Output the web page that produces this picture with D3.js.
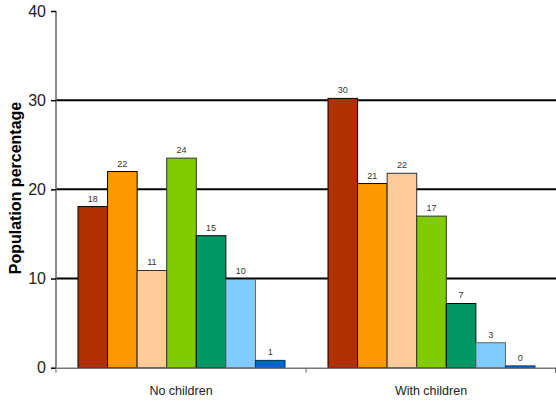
<!DOCTYPE html>
<html><head><meta charset="utf-8">
<script src="https://cdn.jsdelivr.net/npm/d3@7"></script>
<style>body{margin:0;background:#fff}svg{display:block}</style>
</head><body>
<svg id="c" width="556" height="401"></svg>
<script>
const categories = ["No children", "With children"];
const seriesNames = ["s1","s2","s3","s4","s5","s6","s7"];
const noChildren = [18.07, 22.0, 10.9, 23.5, 14.8, 9.9, 0.82];
const withChildren = [30.2, 20.65, 21.8, 17.0, 7.2, 2.8, 0.2];
const dataLabels = [["18","22","11","24","15","10","1"],["30","21","22","17","7","3","0"]];
const yTicks = [0, 10, 20, 30, 40];
const gridValues = [10, 20, 30];
const colors = ["#B03000","#FF9900","#FFCC99","#80CC00","#009966","#80CCFF","#0066CC"];
const strokes = ["#000","#000","#333","#333","#000","#666","#003366"];

const values = [noChildren, withChildren];
const svg = d3.select("#c");
const mLeft = 56, mRight = 556, mTop = 11, mBottom = 367.7;
const y = d3.scaleLinear().domain([0, 40]).range([mBottom, mTop]);
const x0 = d3.scaleBand().domain(categories).range([mLeft, mRight]);
const x1 = d3.scaleBand().domain(seriesNames).range([22, 229]);

// gridlines
svg.append("g").selectAll("line").data(gridValues).join("line")
  .attr("x1", mLeft).attr("x2", mRight)
  .attr("y1", d => y(d)).attr("y2", d => y(d))
  .attr("stroke", "#000").attr("stroke-width", 2);

// bars
categories.forEach((c, ci) => {
  const g = svg.append("g").attr("transform", `translate(${x0(c)},0)`);
  g.selectAll("rect").data(values[ci]).join("rect")
    .attr("x", (d, i) => x1(seriesNames[i]))
    .attr("y", d => y(d))
    .attr("width", x1.bandwidth())
    .attr("height", d => mBottom - y(d))
    .attr("fill", (d, i) => colors[i])
    .attr("stroke", (d, i) => strokes[i])
    .attr("stroke-width", 1);
  g.selectAll("text").data(values[ci]).join("text")
    .attr("x", (d, i) => x1(seriesNames[i]) + x1.bandwidth() / 2)
    .attr("y", d => y(d) - 5)
    .attr("text-anchor", "middle")
    .attr("font-family", "Liberation Sans, Arial, sans-serif")
    .attr("font-size", 9)
    .attr("fill", "#333")
    .text((d, i) => dataLabels[ci][i]);
});

// y axis
const yAxis = d3.axisLeft(y).tickValues(yTicks).tickSize(5).tickPadding(5).tickFormat(d3.format("d"));
const ya = svg.append("g").attr("transform", `translate(${mLeft},0)`).call(yAxis);
ya.select(".domain").attr("stroke", "#666").attr("stroke-width", 1.5).attr("d", `M0,${mTop}V${mBottom}`);
ya.selectAll(".tick line").attr("stroke", "#000").attr("stroke-width", 1.5);
ya.selectAll(".tick text").attr("font-family", "Liberation Sans, Arial, sans-serif")
  .attr("font-size", 16).attr("fill", "#222");

// x axis
const xAxis = d3.axisBottom(x0).tickSize(0).tickPadding(18);
const xa = svg.append("g").attr("transform", `translate(0,${mBottom})`).call(xAxis);
xa.select(".domain").attr("stroke", "#777").attr("stroke-width", 1.5);
xa.selectAll(".tick text").attr("font-family", "Liberation Sans, Arial, sans-serif")
  .attr("font-size", 12.5).attr("fill", "#222");
// boundary ticks between categories
xa.append("g").selectAll("line").data([mLeft, x0(categories[1]), mRight - 0.5]).join("line")
  .attr("x1", d => d).attr("x2", d => d).attr("y1", 0).attr("y2", 5)
  .attr("stroke", "#666").attr("stroke-width", 1);

// y label
svg.append("text")
  .attr("transform", `translate(21,188) rotate(-90)`)
  .attr("text-anchor", "middle")
  .attr("font-family", "Liberation Sans, Arial, sans-serif")
  .attr("font-weight", "bold").attr("font-size", 16).attr("fill", "#000")
  .text("Population percentage");
</script>
</body></html>
